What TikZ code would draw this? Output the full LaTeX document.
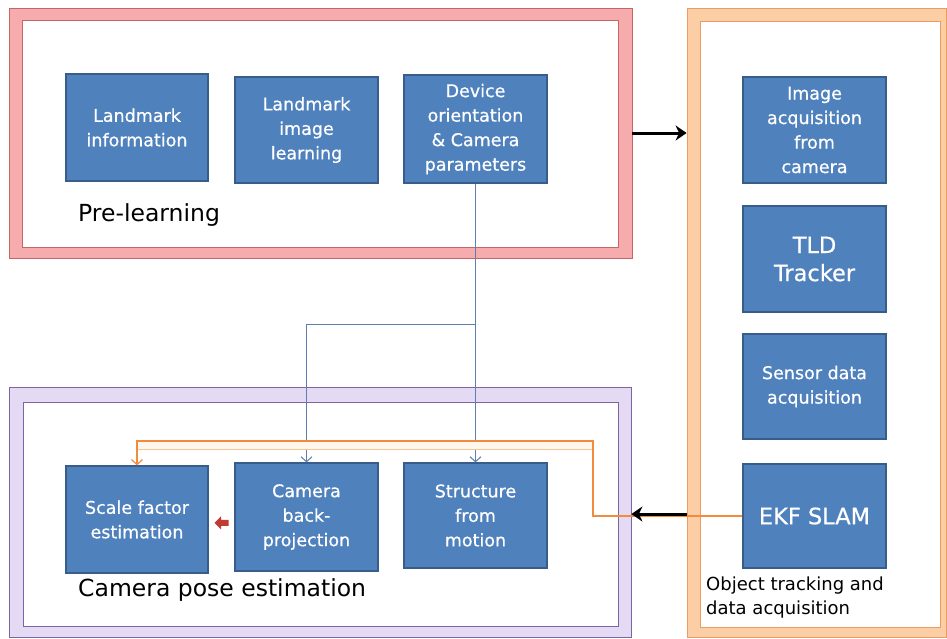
\documentclass[tikz,border=0pt]{standalone}
\usepackage{fontspec}
\setmainfont{DejaVu Sans}
\newfontfamily\boxfont{DejaVu Sans}[FakeBold=0.6]
\usetikzlibrary{arrows.meta,calc}
\definecolor{boxfill}{RGB}{79,129,189}
\definecolor{boxline}{RGB}{56,93,138}
\definecolor{pinkband}{RGB}{246,172,172}
\definecolor{pinkline}{RGB}{200,100,100}
\definecolor{orband}{RGB}{251,206,166}
\definecolor{orline}{RGB}{236,156,96}
\definecolor{puband}{RGB}{228,218,244}
\definecolor{puline}{RGB}{128,100,162}
\definecolor{conblue}{RGB}{95,125,175}
\definecolor{conor}{RGB}{240,140,60}
\definecolor{conorlight}{RGB}{244,200,150}
\definecolor{conorfaint}{RGB}{255,247,237}
\definecolor{redarrow}{RGB}{192,60,50}
\begin{document}
\begin{tikzpicture}[x=1pt,y=-1pt,
  blk/.style={draw=boxline, line width=1.2pt, fill=boxfill, text=white, align=center,
    inner sep=0pt, font=\boxfont\fontsize{17.5}{24.5}\selectfont},
  bigblk/.style={blk, font=\boxfont\fontsize{22.5}{28}\selectfont},
  band/.style={rectangle, line width=0.8pt, inner sep=0pt},
  inner/.style={rectangle, fill=white, line width=0.9pt, inner sep=0pt},
  conn/.style={draw=conblue, line width=1pt, -{Straight Barb[length=5pt,width=11pt]}},
  conno/.style={draw=conor, line width=1.2pt, -{Straight Barb[length=5pt,width=11pt]}},
  bigarrow/.style={line width=3pt, -{Stealth[length=11pt,width=15pt,inset=3.5pt]}},
  lbl/.style={inner sep=0pt, text=black}]
\useasboundingbox (0,0) rectangle (947,638);
\fill[white] (0,0) rectangle (947,638);
% panels
\node[band, fill=pinkband, draw=pinkline, minimum width=623pt, minimum height=250pt] (pinkO) at (320.5,133) {};
\node[inner, draw=pinkline, minimum width=596pt, minimum height=227pt] (pinkI) at (320,133.5) {};
\node[band, fill=orband, draw=orline, minimum width=259pt, minimum height=629pt] (orO) at (816.5,322.5) {};
\node[inner, draw=orline, minimum width=240pt, minimum height=606pt] (orI) at (820,324) {};
\node[band, fill=puband, draw=puline, minimum width=622pt, minimum height=250pt] (puO) at (320,512) {};
\node[inner, draw=puline, minimum width=595pt, minimum height=224pt] (puI) at (320.5,514) {};
% boxes
\node[blk, minimum width=142pt, minimum height=107pt] (lmi) at (137,127.5) {Landmark\\information};
\node[blk, minimum width=143pt, minimum height=106pt] (lil) at (306.5,130) {Landmark\\image\\learning};
\node[blk, minimum width=143pt, minimum height=108pt] (dev) at (475.5,129) {Device\\orientation\\\& Camera\\parameters};
\node[blk, minimum width=143pt, minimum height=106pt] (img) at (814.5,130) {Image\\acquisition\\from\\camera};
\node[bigblk, minimum width=143pt, minimum height=106pt] (tld) at (814.5,259) {TLD\\Tracker};
\node[blk, minimum width=143pt, minimum height=105pt] (sen) at (814.5,386.5) {Sensor data\\acquisition};
\node[bigblk, minimum width=143pt, minimum height=104pt] (ekf) at (814.5,516) {EKF SLAM};
\node[blk, minimum width=142pt, minimum height=107pt] (sca) at (137,519.5) {Scale factor\\estimation};
\node[blk, minimum width=143pt, minimum height=108pt] (cbp) at (306.5,517) {Camera\\back-\\projection};
\node[blk, minimum width=143pt, minimum height=105pt] (sfm) at (475.5,515.5) {Structure\\from\\motion};
% labels
\node[lbl, anchor=base west, font=\fontsize{23.5}{28}\selectfont] (prel) at (78,221) {Pre-learning};
\node[lbl, anchor=base west, font=\fontsize{23.5}{28}\selectfont] (cpe) at (78,596) {Camera pose estimation};
\node[lbl, anchor=west, align=left, font=\fontsize{18}{24}\selectfont] (otd) at (706,598) {Object tracking and\\data acquisition};
% connectors
\draw[conn] (dev.south) -- (sfm.north);
\coordinate (br) at (dev.south |- 0,324);
\draw[conn] (br) -| (cbp.north);
\coordinate (oc) at (593,441);
\fill[conorfaint] (sca.north |- oc) rectangle (593,449);
\draw[draw=conorlight, line width=1pt] (sca.north |- 0,449) -- (593,449);
\draw[conno] (ekf.west) -| (oc) -- (sca.north |- oc) -- (sca.north);
% red block arrow from camera back-projection to scale factor
\coordinate (ra) at ($(sca.east)!0.5!(cbp.west)+(0,4.5)$);
\fill[redarrow] ($(ra)+(-7,0)$) -- ($(ra)+(-0.5,-6.5)$) -- ($(ra)+(-0.5,-3)$) -- ($(ra)+(7,-3)$)
  -- ($(ra)+(7,3)$) -- ($(ra)+(-0.5,3)$) -- ($(ra)+(-0.5,6.5)$) -- cycle;
\draw[bigarrow] (pinkO.east |- 0,133) -- (orO.west |- 0,133);
\draw[bigarrow] (orO.west |- 0,514) -- (puO.east |- 0,514);
\end{tikzpicture}
\end{document}
